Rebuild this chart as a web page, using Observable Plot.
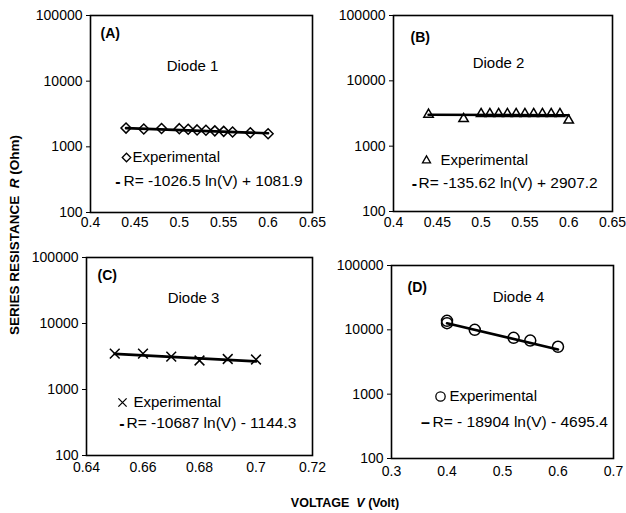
<!DOCTYPE html>
<html><head><meta charset="utf-8">
<script src="https://cdn.jsdelivr.net/npm/d3@7"></script>
<script src="https://cdn.jsdelivr.net/npm/@observablehq/plot@0.6"></script>
<style>
body{margin:0;background:#fff;}
#wrap{position:relative;width:626px;height:513px;font-family:"Liberation Sans",Arial,sans-serif;color:#000;overflow:hidden;}
.panel{position:absolute;}
.title{position:absolute;font-weight:bold;font-size:12.5px;white-space:nowrap;}
</style></head><body>
<div id="wrap"></div>
<script>
// ---- data ----
const yTicks = [100, 1000, 10000, 100000];

const voltA = [0.44, 0.46, 0.48, 0.50, 0.51, 0.52, 0.53, 0.54, 0.55, 0.56, 0.58, 0.60];
const resA  = [1930, 1870, 1900, 1890, 1850, 1810, 1790, 1750, 1720, 1680, 1640, 1580];
const trendVoltA = [0.44, 0.60];
const trendResA  = [1925, 1606];
const xTicksA = [0.4, 0.45, 0.5, 0.55, 0.6, 0.65];

const voltB = [0.44, 0.48, 0.50, 0.51, 0.52, 0.53, 0.54, 0.55, 0.56, 0.57, 0.58, 0.59, 0.60];
const resB  = [3050, 2620, 3120, 3120, 3120, 3120, 3120, 3120, 3120, 3120, 3120, 3120, 2480];
const trendVoltB = [0.44, 0.60];
const trendResB  = [3018, 2976];
const xTicksB = [0.4, 0.45, 0.5, 0.55, 0.6, 0.65];

const voltC = [0.65, 0.66, 0.67, 0.68, 0.69, 0.70];
const resC  = [3500, 3500, 3150, 2750, 2900, 2850];
const trendVoltC = [0.65, 0.70];
const trendResC  = [3460, 2668];
const xTicksC = [0.64, 0.66, 0.68, 0.7, 0.72];

const voltD = [0.40, 0.40, 0.45, 0.52, 0.55, 0.60];
const resD  = [13800, 12700, 10000, 7500, 6800, 5450];
const trendVoltD = [0.40, 0.60];
const trendResD  = [12626, 4961];
const xTicksD = [0.3, 0.4, 0.5, 0.6, 0.7];

const panelLabels = ["(A)", "(B)", "(C)", "(D)"];
const diodeLabels = ["Diode 1", "Diode 2", "Diode 3", "Diode 4"];
const legendLabel = "Experimental";
const formulas = [
  "R= -1026.5 ln(V) + 1081.9",
  "R= -135.62 ln(V) + 2907.2",
  "R= -10687 ln(V) - 1144.3",
  "R= - 18904 ln(V) - 4695.4"
];

// ---- drawing ----
const FONT = "Liberation Sans, Arial, sans-serif";
const wrap = document.getElementById("wrap");

function panel(cfg) {
  const data = cfg.volt.map((v, i) => ({v, r: cfg.res[i]}));
  const trend = cfg.tVolt.map((v, i) => ({v, r: cfg.tRes[i]}));
  const fa = "top-left";
  const txt = (s, dx, dy, o = {}) => Plot.text([s], {
    text: d => d, frameAnchor: fa, dx, dy, textAnchor: "start", lineAnchor: "middle",
    fontSize: 15, fill: "#000", ...o
  });
  const L = cfg.lay;
  const plot = Plot.plot({
    width: L.w, height: L.h,
    marginLeft: L.ml, marginRight: L.mr, marginTop: L.mt, marginBottom: L.mb,
    style: {fontFamily: FONT, fontSize: "14px", overflow: "visible", color: "#000", background: "transparent"},
    x: {domain: cfg.xDomain, ticks: cfg.xTicks, tickFormat: d => String(d), tickSize: 0, tickPadding: L.xp, label: null},
    y: {type: "log", domain: [100, 100000], ticks: yTicks, tickFormat: d => String(d), tickSize: 4, tickPadding: 4, label: null},
    marks: [
      Plot.frame({stroke: "#000", strokeWidth: 1.6}),
      Plot.line(trend, {x: "v", y: "r", stroke: "#000", strokeWidth: 2.6}),
      Plot.dot(data, {x: "v", y: "r", symbol: cfg.symbol, r: cfg.r, stroke: "#000", strokeWidth: 1.5, fill: "none"}),
      txt(cfg.panelLabel, cfg.t.p[0], cfg.t.p[1], {fontWeight: "bold", fontSize: 14}),
      txt(cfg.diode, cfg.t.d[0], cfg.t.d[1], {textAnchor: "middle"}),
      Plot.dot([0], {frameAnchor: fa, dx: cfg.t.s[0], dy: cfg.t.s[1], symbol: cfg.symbol, r: cfg.r * 0.85, stroke: "#000", strokeWidth: 1.3, fill: "none"}),
      txt(legendLabel, cfg.t.e[0], cfg.t.e[1]),
      txt(cfg.dash, cfg.t.k[0], cfg.t.k[1], {textAnchor: "middle", fontWeight: "bold", fontSize: 16}),
      txt(cfg.formula, cfg.t.f[0], cfg.t.f[1], {fontSize: 15.5})
    ]
  });
  const div = document.createElement("div");
  div.className = "panel";
  div.style.left = L.left + "px";
  div.style.top = L.top + "px";
  div.style.width = L.w + "px";
  div.appendChild(plot);
  wrap.appendChild(div);
}

panel({
  volt: voltA, res: resA, tVolt: trendVoltA, tRes: trendResA,
  xDomain: [0.4, 0.65], xTicks: xTicksA, symbol: "diamond2", r: 4.5,
  panelLabel: panelLabels[0], diode: diodeLabels[0], formula: formulas[0], dash: "-",
  lay: {left: 0, top: 0, w: 315, h: 240, ml: 90, mr: 3, mt: 15, mb: 28, xp: 5},
  t: {p: [10, 18], d: [102, 51], s: [36, 142], e: [42, 142], k: [27.5, 166], f: [33, 166]}
});
panel({
  volt: voltB, res: resB, tVolt: trendVoltB, tRes: trendResB,
  xDomain: [0.4, 0.65], xTicks: xTicksB, symbol: "triangle2", r: 4.5,
  panelLabel: panelLabels[1], diode: diodeLabels[1], formula: formulas[1], dash: "-",
  lay: {left: 315, top: 0, w: 311, h: 240, ml: 78, mr: 14, mt: 15, mb: 29, xp: 6},
  t: {p: [17, 22], d: [105, 48], s: [33, 145], e: [47, 145], k: [21, 168], f: [25, 168]}
});
panel({
  volt: voltC, res: resC, tVolt: trendVoltC, tRes: trendResC,
  xDomain: [0.64, 0.72], xTicks: xTicksC, symbol: "times", r: 4.5,
  panelLabel: panelLabels[2], diode: diodeLabels[2], formula: formulas[2], dash: "-",
  lay: {left: 0, top: 240, w: 315, h: 240, ml: 86, mr: 3, mt: 17, mb: 25, xp: 7},
  t: {p: [11, 18], d: [107, 41], s: [36, 145], e: [47, 145], k: [35.5, 166], f: [40, 166]}
});
panel({
  volt: voltD, res: resD, tVolt: trendVoltD, tRes: trendResD,
  xDomain: [0.3, 0.7], xTicks: xTicksD, symbol: "circle", r: 5.5,
  panelLabel: panelLabels[3], diode: diodeLabels[3], formula: formulas[3], dash: "–",
  lay: {left: 315, top: 240, w: 311, h: 240, ml: 76, mr: 13, mt: 25, mb: 22, xp: 8},
  t: {p: [16, 22], d: [127, 32], s: [49, 131], e: [58, 131], k: [34, 157], f: [41, 157]}
});

// axis titles
const yt = document.createElement("div");
yt.className = "title";
yt.style.fontSize = "13.5px";
yt.innerHTML = "SERIES RESISTANCE&nbsp; <i>R</i> (Ohm)";
yt.style.left = "14px"; yt.style.top = "235px";
yt.style.transform = "translate(-50%,-50%) rotate(-90deg)";
wrap.appendChild(yt);

const xt = document.createElement("div");
xt.className = "title";
xt.innerHTML = "VOLTAGE&nbsp; <i>V</i> (Volt)";
xt.style.left = "345px"; xt.style.top = "503px";
xt.style.transform = "translate(-50%,-50%)";
wrap.appendChild(xt);
</script>
</body></html>
